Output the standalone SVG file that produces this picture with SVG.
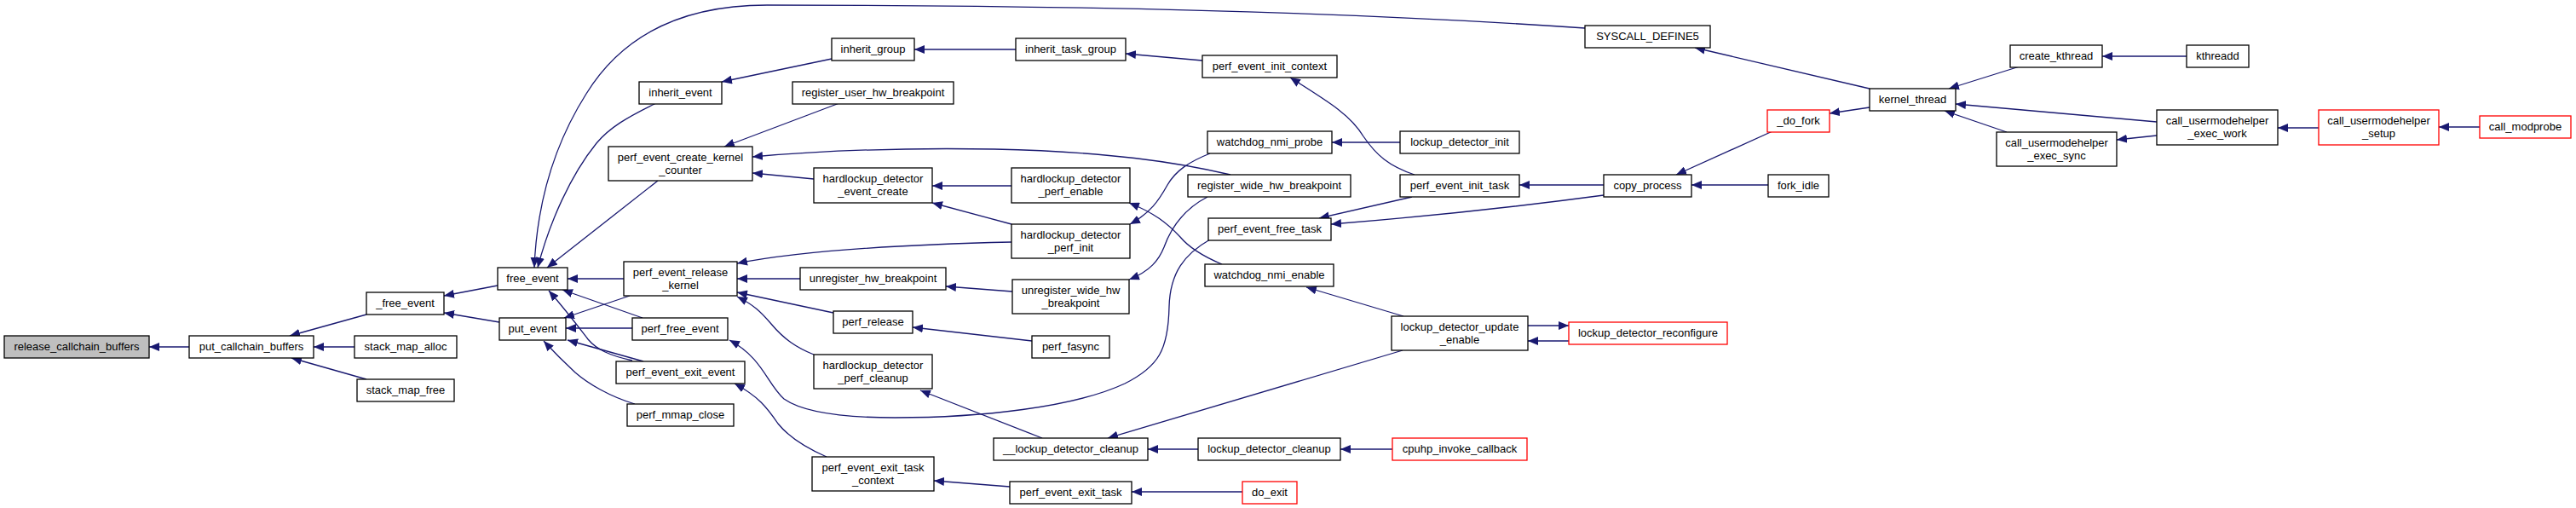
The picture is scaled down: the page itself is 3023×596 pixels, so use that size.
<svg xmlns="http://www.w3.org/2000/svg" width="3023" height="596" viewBox="0 0 3023 596">
<style>
.n rect{fill:#fff;stroke:#000;stroke-width:1.3}
.n.r rect{stroke:#f00}
.n.g rect{fill:#bfbfbf}
.n text{font-family:"Liberation Sans",Arial,sans-serif;font-size:13px;fill:#000;text-anchor:middle}
#edges path{fill:none;stroke:#191970;stroke-width:1.3;marker-end:url(#ah)}
</style>
<defs>
<marker id="ah" viewBox="0 0 12 10" refX="12" refY="5" markerWidth="12" markerHeight="10" markerUnits="userSpaceOnUse" orient="auto">
<path d="M0,0 L12,5 L0,10 z" fill="#191970"/>
</marker>
</defs>
<rect width="3023" height="596" fill="#fff"/>
<g id="edges">
<path d="M222,407 L175,407"/>
<path d="M430,369 L340,394"/>
<path d="M416,407 L368,407"/>
<path d="M430,445 L342,420"/>
<path d="M584,335 L521,347"/>
<path d="M586,378 L521,367"/>
<path d="M732,327 L666,327"/>
<path d="M754,373 L660,340"/>
<path d="M742,423 C715,417 700,410 690,398 C680,385 665,365 644,341"/>
<path d="M739,347 L662,373"/>
<path d="M742,385 L664,385"/>
<path d="M755,424 L666,399"/>
<path d="M745,474 C715,465 690,450 675,437 C662,425 650,413 638,400"/>
<path d="M770,121 C735,138 715,150 700,168 C670,205 645,260 631,314"/>
<path d="M772,212 L642,314"/>
<path d="M1860,33 C1500,8 1100,6 900,6 C790,6 725,50 688,110 C650,170 630,240 627,314"/>
<path d="M976,69 L847,96"/>
<path d="M985,121 L850,172"/>
<path d="M1444,205 C1380,190 1300,178 1167,175 C1050,173 950,178 883,184"/>
<path d="M955,210 L883,203"/>
<path d="M1192,58 L1073,58"/>
<path d="M1411,71 L1321,63"/>
<path d="M1660,205 C1630,195 1615,182 1600,160 C1585,135 1560,120 1514,91"/>
<path d="M1187,218 L1094,218"/>
<path d="M1187,263 L1094,238"/>
<path d="M1187,284 C1100,286 950,292 865,309"/>
<path d="M1420,180 C1395,190 1380,200 1370,217 C1360,235 1350,250 1326,263"/>
<path d="M1434,310 C1410,300 1395,290 1385,278 C1370,262 1355,250 1325,238"/>
<path d="M1643,167 L1563,167"/>
<path d="M1188,342 L1110,336"/>
<path d="M1417,231 C1390,245 1375,265 1366,290 C1360,305 1350,318 1325,328"/>
<path d="M1420,281 C1390,298 1373,320 1372,360 C1371,410 1360,430 1320,450 C1260,478 1150,490 1050,490 C980,490 940,482 920,468 C900,450 895,420 856,399"/>
<path d="M955,416 C935,408 920,398 905,380 C893,366 885,358 865,348"/>
<path d="M939,327 L865,327"/>
<path d="M978,367 L865,343"/>
<path d="M1211,400 L1071,384"/>
<path d="M970,536 C945,525 925,512 913,497 C900,478 890,465 862,450"/>
<path d="M1223,514 L1080,458"/>
<path d="M1646,411 L1300,514"/>
<path d="M1406,527 L1347,527"/>
<path d="M1185,571 L1096,564"/>
<path d="M1458,577 L1328,577"/>
<path d="M1647,371 L1533,337"/>
<path d="M1793,382 L1841,382"/>
<path d="M1841,400 L1793,400"/>
<path d="M1634,527 L1573,527"/>
<path d="M1657,231 L1548,256"/>
<path d="M1882,229 C1800,240 1700,252 1562,263"/>
<path d="M1882,217 L1783,217"/>
<path d="M2080,154 L1967,205"/>
<path d="M2075,217 L1985,217"/>
<path d="M2194,104 L1989,56"/>
<path d="M2194,126 L2147,133"/>
<path d="M2370,78 L2287,104"/>
<path d="M2531,143 L2295,122"/>
<path d="M2355,155 L2282,130"/>
<path d="M2566,66 L2467,66"/>
<path d="M2531,159 L2484,164"/>
<path d="M2721,150 L2673,150"/>
<path d="M2910,149 L2862,149"/>
</g>
<g id="release_callchain_buffers" class="n g"><rect x="5" y="394" width="170" height="26"/><text x="90" y="411">release_callchain_buffers</text></g>
<g id="put_callchain_buffers" class="n"><rect x="222" y="394" width="146" height="26"/><text x="295" y="411">put_callchain_buffers</text></g>
<g id="_free_event" class="n"><rect x="430" y="343" width="91" height="26"/><text x="475.5" y="360">_free_event</text></g>
<g id="stack_map_alloc" class="n"><rect x="416" y="394" width="120" height="26"/><text x="476" y="411">stack_map_alloc</text></g>
<g id="stack_map_free" class="n"><rect x="419" y="445" width="114" height="26"/><text x="476" y="462">stack_map_free</text></g>
<g id="free_event" class="n"><rect x="584" y="314" width="82" height="26"/><text x="625" y="331">free_event</text></g>
<g id="put_event" class="n"><rect x="586" y="373" width="78" height="26"/><text x="625" y="390">put_event</text></g>
<g id="perf_event_release_kernel" class="n"><rect x="732" y="307" width="133" height="40"/><text x="798.5" y="323.5">perf_event_release</text><text x="798.5" y="338.5">_kernel</text></g>
<g id="perf_free_event" class="n"><rect x="742" y="373" width="112" height="26"/><text x="798" y="390">perf_free_event</text></g>
<g id="perf_event_exit_event" class="n"><rect x="723" y="424" width="151" height="26"/><text x="798.5" y="441">perf_event_exit_event</text></g>
<g id="perf_mmap_close" class="n"><rect x="736" y="474" width="125" height="26"/><text x="798.5" y="491">perf_mmap_close</text></g>
<g id="inherit_event" class="n"><rect x="750" y="96" width="97" height="26"/><text x="798.5" y="113">inherit_event</text></g>
<g id="perf_event_create_kernel_counter" class="n"><rect x="714" y="172" width="169" height="40"/><text x="798.5" y="188.5">perf_event_create_kernel</text><text x="798.5" y="203.5">_counter</text></g>
<g id="inherit_group" class="n"><rect x="976" y="45" width="97" height="26"/><text x="1024.5" y="62">inherit_group</text></g>
<g id="register_user_hw_breakpoint" class="n"><rect x="930" y="96" width="189" height="26"/><text x="1024.5" y="113">register_user_hw_breakpoint</text></g>
<g id="hardlockup_detector_event_create" class="n"><rect x="955" y="197" width="139" height="41"/><text x="1024.5" y="214">hardlockup_detector</text><text x="1024.5" y="229">_event_create</text></g>
<g id="unregister_hw_breakpoint" class="n"><rect x="939" y="314" width="171" height="26"/><text x="1024.5" y="331">unregister_hw_breakpoint</text></g>
<g id="perf_release" class="n"><rect x="978" y="365" width="93" height="26"/><text x="1024.5" y="382">perf_release</text></g>
<g id="hardlockup_detector_perf_cleanup" class="n"><rect x="955" y="416" width="139" height="40"/><text x="1024.5" y="432.5">hardlockup_detector</text><text x="1024.5" y="447.5">_perf_cleanup</text></g>
<g id="perf_event_exit_task_context" class="n"><rect x="953" y="536" width="143" height="40"/><text x="1024.5" y="552.5">perf_event_exit_task</text><text x="1024.5" y="567.5">_context</text></g>
<g id="inherit_task_group" class="n"><rect x="1192" y="45" width="129" height="26"/><text x="1256.5" y="62">inherit_task_group</text></g>
<g id="hardlockup_detector_perf_enable" class="n"><rect x="1187" y="197" width="139" height="41"/><text x="1256.5" y="214">hardlockup_detector</text><text x="1256.5" y="229">_perf_enable</text></g>
<g id="hardlockup_detector_perf_init" class="n"><rect x="1187" y="263" width="139" height="40"/><text x="1256.5" y="279.5">hardlockup_detector</text><text x="1256.5" y="294.5">_perf_init</text></g>
<g id="unregister_wide_hw_breakpoint" class="n"><rect x="1188" y="328" width="137" height="40"/><text x="1256.5" y="344.5">unregister_wide_hw</text><text x="1256.5" y="359.5">_breakpoint</text></g>
<g id="perf_fasync" class="n"><rect x="1211" y="394" width="91" height="26"/><text x="1256.5" y="411">perf_fasync</text></g>
<g id="__lockup_detector_cleanup" class="n"><rect x="1166" y="514" width="181" height="26"/><text x="1256.5" y="531">__lockup_detector_cleanup</text></g>
<g id="perf_event_exit_task" class="n"><rect x="1185" y="565" width="143" height="26"/><text x="1256.5" y="582">perf_event_exit_task</text></g>
<g id="perf_event_init_context" class="n"><rect x="1411" y="65" width="158" height="26"/><text x="1490" y="82">perf_event_init_context</text></g>
<g id="watchdog_nmi_probe" class="n"><rect x="1417" y="154" width="146" height="26"/><text x="1490" y="171">watchdog_nmi_probe</text></g>
<g id="register_wide_hw_breakpoint" class="n"><rect x="1394" y="205" width="191" height="26"/><text x="1489.5" y="222">register_wide_hw_breakpoint</text></g>
<g id="perf_event_free_task" class="n"><rect x="1418" y="256" width="144" height="26"/><text x="1490" y="273">perf_event_free_task</text></g>
<g id="watchdog_nmi_enable" class="n"><rect x="1414" y="310" width="151" height="26"/><text x="1489.5" y="327">watchdog_nmi_enable</text></g>
<g id="lockup_detector_cleanup" class="n"><rect x="1406" y="514" width="167" height="26"/><text x="1489.5" y="531">lockup_detector_cleanup</text></g>
<g id="do_exit" class="n r"><rect x="1458" y="565" width="64" height="26"/><text x="1490" y="582">do_exit</text></g>
<g id="SYSCALL_DEFINE5" class="n"><rect x="1860" y="30" width="147" height="26"/><text x="1933.5" y="47">SYSCALL_DEFINE5</text></g>
<g id="lockup_detector_init" class="n"><rect x="1643" y="154" width="140" height="26"/><text x="1713" y="171">lockup_detector_init</text></g>
<g id="perf_event_init_task" class="n"><rect x="1643" y="205" width="140" height="26"/><text x="1713" y="222">perf_event_init_task</text></g>
<g id="copy_process" class="n"><rect x="1882" y="205" width="103" height="26"/><text x="1933.5" y="222">copy_process</text></g>
<g id="lockup_detector_update_enable" class="n"><rect x="1633" y="371" width="160" height="40"/><text x="1713" y="387.5">lockup_detector_update</text><text x="1713" y="402.5">_enable</text></g>
<g id="lockup_detector_reconfigure" class="n r"><rect x="1841" y="378" width="186" height="26"/><text x="1934" y="395">lockup_detector_reconfigure</text></g>
<g id="cpuhp_invoke_callback" class="n r"><rect x="1634" y="514" width="158" height="26"/><text x="1713" y="531">cpuhp_invoke_callback</text></g>
<g id="_do_fork" class="n r"><rect x="2074" y="129" width="73" height="26"/><text x="2110.5" y="146">_do_fork</text></g>
<g id="fork_idle" class="n"><rect x="2075" y="205" width="71" height="26"/><text x="2110.5" y="222">fork_idle</text></g>
<g id="kernel_thread" class="n"><rect x="2194" y="104" width="101" height="26"/><text x="2244.5" y="121">kernel_thread</text></g>
<g id="create_kthread" class="n"><rect x="2359" y="53" width="108" height="26"/><text x="2413" y="70">create_kthread</text></g>
<g id="call_usermodehelper_exec_sync" class="n"><rect x="2343" y="155" width="141" height="40"/><text x="2413.5" y="171.5">call_usermodehelper</text><text x="2413.5" y="186.5">_exec_sync</text></g>
<g id="kthreadd" class="n"><rect x="2566" y="53" width="73" height="26"/><text x="2602.5" y="70">kthreadd</text></g>
<g id="call_usermodehelper_exec_work" class="n"><rect x="2531" y="129" width="142" height="41"/><text x="2602" y="146">call_usermodehelper</text><text x="2602" y="161">_exec_work</text></g>
<g id="call_usermodehelper_setup" class="n r"><rect x="2721" y="129" width="141" height="41"/><text x="2791.5" y="146">call_usermodehelper</text><text x="2791.5" y="161">_setup</text></g>
<g id="call_modprobe" class="n r"><rect x="2910" y="136" width="107" height="26"/><text x="2963.5" y="153">call_modprobe</text></g>
</svg>
